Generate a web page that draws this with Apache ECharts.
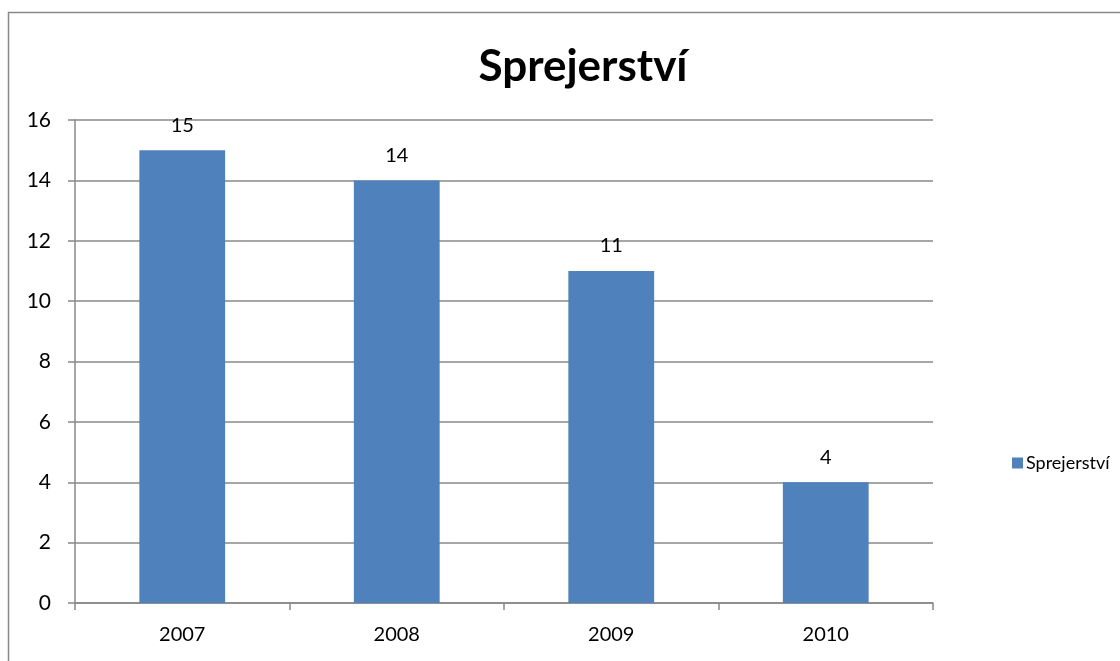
<!DOCTYPE html>
<html>
<head>
<meta charset="utf-8">
<title>Sprejerství</title>
<script src="https://cdn.jsdelivr.net/npm/echarts@6/dist/echarts.min.js"></script>
<style>
    html, body { margin: 0; padding: 0; background: #fff; }
    #chart { width: 1120px; height: 661px; }
</style>
</head>
<body>
<div id="chart"></div>
<script>
// data
var years = ['2007', '2008', '2009', '2010'];
var counts = [15, 14, 11, 4];
var seriesName = 'Sprejerství';

var font = 'Lato, "Open Sans", sans-serif';
var myChart = echarts.init(document.getElementById('chart'));

myChart.setOption({
    animation: false,
    backgroundColor: '#fff',
    title: {
        text: 'Sprejerství',
        left: 578,
        textAlign: 'center',
        top: 40,
        textStyle: { fontFamily: font, fontWeight: 'bold', fontSize: 44, color: '#000' }
    },
    // chart frame, runs off the bottom/right like the screenshot
    graphic: [{
        type: 'rect',
        shape: { x: 8.5, y: 12.5, width: 1200, height: 700 },
        style: { fill: 'none', stroke: '#888', lineWidth: 1.5 },
        silent: true
    }],
    legend: {
        data: [seriesName],
        left: 1007,
        top: 449,
        icon: 'rect',
        itemWidth: 11,
        itemHeight: 11,
        itemGap: 4,
        textStyle: { fontFamily: font, fontSize: 18, color: '#000', padding: [0, 0, 0, -2] }
    },
    grid: {
        left: 75,
        right: 187,
        top: 120,
        bottom: 58
    },
    xAxis: {
        type: 'category',
        data: years,
        axisLine: { lineStyle: { color: '#888', width: 1.5 } },
        axisTick: { show: true, length: 7, lineStyle: { color: '#888', width: 1.5 } },
        axisLabel: { fontFamily: font, fontSize: 20, color: '#000', margin: 22 },
        splitLine: { show: false }
    },
    yAxis: {
        type: 'value',
        min: 0,
        max: 16,
        interval: 2,
        axisLine: { show: true, lineStyle: { color: '#888', width: 1.5 } },
        axisTick: { show: true, length: 7, lineStyle: { color: '#888', width: 1.5 } },
        axisLabel: { fontFamily: font, fontSize: 21, color: '#000', margin: 24 },
        splitLine: { lineStyle: { color: '#888', width: 1.5 } }
    },
    series: [{
        name: seriesName,
        type: 'bar',
        data: counts,
        barWidth: '40%',
        itemStyle: { color: '#4F81BD' },
        label: {
            show: true,
            position: 'top',
            distance: 15,
            fontFamily: font,
            fontSize: 20,
            color: '#000'
        }
    }]
});
</script>
</body>
</html>
